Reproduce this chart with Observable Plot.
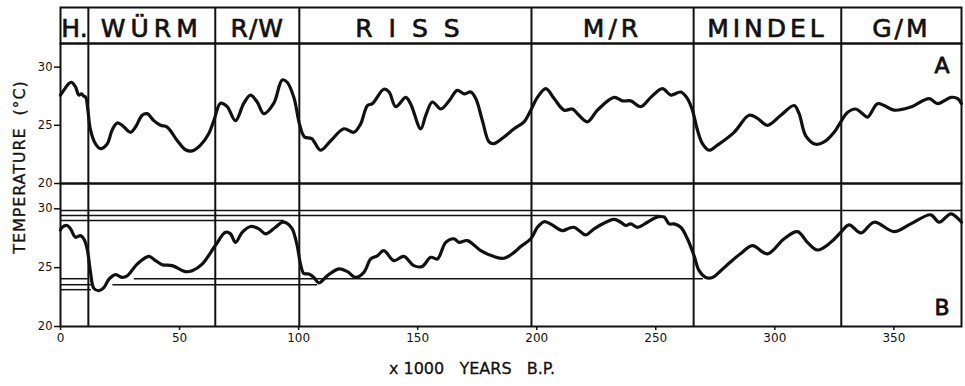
<!DOCTYPE html>
<html><head><meta charset="utf-8">
<script src="https://cdn.jsdelivr.net/npm/d3@7"></script>
<script src="https://cdn.jsdelivr.net/npm/@observablehq/plot@0.6"></script>
<style>
body{margin:0;background:#fff;font-family:"DejaVu Sans",sans-serif;}
#wrap{position:relative;width:965px;height:386px;overflow:hidden;}
#wrap svg{display:block;overflow:visible;background:transparent;}
#ytitle{position:absolute;left:19px;top:167px;transform:translate(-50%,-50%) rotate(-90deg);white-space:pre;font-size:16px;letter-spacing:0.9px;color:#111;-webkit-text-stroke:0.3px #111;}
</style></head><body>
<div id="wrap"><div id="ytitle">TEMPERATURE  (°C)</div></div>
<script>
// ---- data ----
const periods = ["H.", "WÜRM", "R/W", "RISS", "M/R", "MINDEL", "G/M"];
const boundaries = [11.7, 65, 100.3, 197.8, 265.9, 327.9];
const ageMax = 378.4;
const tempTicks = [20, 25, 30];
const ageTicks = [0, 50, 100, 150, 200, 250, 300, 350];
const xTitle = "x 1000   YEARS   B.P.";

const ageA = [0,2,3.5,4.6,6.3,7.7,8.8,9.8,10.6,11.5,12.6,14.7,16.8,19.6,21.7,23.8,25.9,29.4,31.5,34.3,36.4,39.2,42,44.8,49,52.5,55.3,58.8,62.3,64.4,67.2,70,73.5,77,79.8,82.6,85.4,89.6,93.1,95.2,98,100.5,102.5,105.5,109.2,113.4,119,123.2,126,128.9,131,135.8,138,140.8,145,147,151.3,153.4,156.2,159.7,163.2,166.6,169.5,172.3,174.4,177.2,180,182.1,186.3,190.5,194.7,197.5,200.3,203.8,207.3,211.5,215,217.1,221.3,225.5,232.5,236,239.5,243.7,247.9,252.8,256.3,260.5,263.3,265.4,267.5,269.6,272.4,275.9,282.9,289.2,292.7,296.9,302.5,308.1,310.2,313,317.2,320.7,324.9,327.7,330.5,334,336.8,338.9,343.1,345.9,350.1,357.1,364.8,368.3,374,376.8,378.4];
const tempA = [27.6,28.2,28.6,28.7,28.3,27.6,27.7,27.5,27.4,26.3,24.6,23.4,23.0,23.4,24.6,25.2,25.0,24.4,24.85,25.86,26.0,25.4,25.0,24.85,23.7,22.9,22.8,23.3,24.3,25.4,26.9,26.6,25.4,26.9,27.6,27.0,26.0,26.9,28.9,28.7,27.4,25.0,24.0,23.86,22.86,23.65,24.7,24.4,25.1,26.7,26.86,28.1,27.86,26.6,27.4,26.86,24.7,25.86,27.0,26.4,27.1,28.0,27.7,27.86,27.3,25.4,23.57,23.43,24.0,24.7,25.3,26.3,27.4,28.15,27.3,26.3,26.4,26.0,25.3,26.3,27.4,27.1,27.1,26.6,27.4,28.15,27.6,27.86,27.3,26.3,24.6,23.43,22.86,23.3,24.4,25.86,25.6,25.0,25.86,26.7,26.0,24.1,23.37,23.57,24.4,25.3,26.1,26.4,26.0,25.7,26.86,26.7,26.3,26.57,27.3,26.86,27.4,27.3,26.86];

const ageB = [0,0.7,2.8,4.2,6.3,8.4,9.8,11.2,12.6,14,16.1,18.2,20.3,23.1,25.9,28,32.2,37.1,39.9,42.7,46.9,52.5,55.3,59.5,65.1,69.3,71.4,73.5,76.3,79.8,83.3,86.1,90.3,93.1,95.2,97.3,99.4,100.8,102.2,104.3,106.4,108.5,112,116.9,120.5,123.9,127.4,130.3,133,135.8,140,144.2,148.4,151.9,155.5,158.3,161.8,165.3,167.4,170.9,176.5,182.1,186.3,190.5,193.3,197.5,200.3,203.1,205.9,210.8,213.6,215.7,217.8,220.6,224.1,229,232.5,235.3,237.4,239.5,242.3,246.5,250.7,253.5,255.6,257.7,260.5,263.3,266.1,268.2,271,273.8,277.3,281.5,285.7,290.6,296.9,303.9,309.5,313.7,317.9,323.5,327.7,331.2,336.1,341.7,350.1,357.1,365.5,369,374,378.4];
const tempB = [28.2,28.43,28.58,28.3,27.58,27.72,27.45,26.6,24.6,23.24,23.04,23.3,24.0,24.4,24.17,24.3,25.3,25.96,25.6,25.25,25.17,24.66,24.74,25.3,26.9,28.0,27.87,27.15,28.0,28.5,28.3,27.87,28.43,28.86,28.77,28.3,26.87,25.3,24.5,24.46,24.17,23.7,24.3,24.9,24.66,24.17,24.6,25.74,26.0,26.45,25.6,25.96,25.17,25.1,25.88,25.74,27.15,27.45,27.15,27.3,26.45,25.94,25.8,26.3,26.8,27.45,28.43,28.9,28.7,28.15,28.35,28.43,28.15,27.78,28.3,28.86,29.1,28.86,28.58,28.72,28.43,28.86,29.3,29.3,28.72,28.72,28.43,27.45,26.0,24.74,24.17,24.17,24.74,25.5,26.2,26.87,26.17,27.45,28.06,27.15,26.5,27.15,28.0,28.64,27.95,28.86,28.06,28.72,29.49,28.86,29.57,28.86];

// reference levels drawn in panel B
const refTemp = [29.85, 29.43, 29.0, 24.06, 24.06, 23.55, 23.55, 23.13];
const refFrom = [0, 0, 0, 0, 31, 0, 22, 0];
const refTo   = [378.4, 252, 94, 12, 270, 13, 108, 13];

// ---- build ----
const ink = "#111";
const font = "DejaVu Sans";
const edges = [0, ...boundaries, ageMax];
const periodRows = periods.map((p, i) => ({label: p, mid: (edges[i] + edges[i + 1]) / 2}));
const rowsA = ageA.map((a, i) => ({age: a, temp: tempA[i]}));
const rowsB = ageB.map((a, i) => ({age: a, temp: tempB[i]}));
const refRows = refTemp.map((t, i) => ({temp: t, from: refFrom[i], to: refTo[i]}));
const spacing = {"H.": 0, "WÜRM": 5, "R/W": 1, "RISS": 16, "M/R": 4, "MINDEL": 4, "G/M": 3};

const common = {width: 965, marginLeft: 60, marginRight: 4,
  style: {fontFamily: font, background: "transparent", overflow: "visible", color: ink}};

const header = Plot.plot({...common, height: 43, marginTop: 7, marginBottom: 0,
  x: {domain: [0, ageMax], axis: null}, y: {domain: [0, 1], axis: null},
  marks: [
    Plot.frame({stroke: ink, strokeWidth: 2}),
    Plot.ruleX(boundaries, {stroke: ink, strokeWidth: 2}),
    Plot.text(periodRows, {x: "mid", text: "label", frameAnchor: "middle", fontSize: 25, dy: 3,
      fill: ink, stroke: ink, strokeWidth: 0.7})
  ]});
d3.select(header).selectAll("text").each(function() {
  const s = spacing[this.textContent];
  if (s) this.setAttribute("letter-spacing", s);
});

const panelA = Plot.plot({...common, height: 140, marginTop: 0, marginBottom: 0,
  x: {domain: [0, ageMax], axis: null}, y: {domain: [20, 32.03]},
  marks: [
    Plot.frame({stroke: ink, strokeWidth: 2}),
    Plot.ruleX(boundaries, {stroke: ink, strokeWidth: 2}),
    Plot.line(rowsA, {x: "age", y: "temp", stroke: ink, strokeWidth: 3.2, curve: "catmull-rom"}),
    Plot.axisY({ticks: tempTicks, tickSize: 6, tickPadding: 2, fontSize: 11.5, label: null, strokeWidth: 1.5}),
    Plot.text(["A"], {frameAnchor: "top-right", dx: -12, dy: 14, fontSize: 22, fill: ink, stroke: ink, strokeWidth: 0.8})
  ]});

const panelB = Plot.plot({...common, height: 203, marginTop: 0, marginBottom: 60,
  x: {domain: [0, ageMax]}, y: {domain: [20, 32.15]},
  marks: [
    Plot.frame({stroke: ink, strokeWidth: 2}),
    Plot.ruleX(boundaries, {stroke: ink, strokeWidth: 2}),
    Plot.ruleY(refRows, {y: "temp", x1: "from", x2: "to", stroke: ink, strokeWidth: 1.5}),
    Plot.line(rowsB, {x: "age", y: "temp", stroke: ink, strokeWidth: 3.2, curve: "catmull-rom"}),
    Plot.axisY({ticks: tempTicks, tickSize: 6, tickPadding: 2, fontSize: 11.5, label: null, strokeWidth: 1.5}),
    Plot.axisX({ticks: ageTicks, tickSize: 4, tickPadding: 3, fontSize: 12, label: null, strokeWidth: 1.5}),
    Plot.text(["B"], {frameAnchor: "bottom-right", dx: -12, dy: -12, fontSize: 22, fill: ink, stroke: ink, strokeWidth: 0.8}),
    Plot.text([xTitle], {frameAnchor: "bottom", dx: -39, dy: 47, fontSize: 16, fill: ink, stroke: ink, strokeWidth: 0.3})
  ]});

const wrap = document.getElementById("wrap");
wrap.appendChild(header);
wrap.appendChild(panelA);
wrap.appendChild(panelB);
</script>
</body></html>
